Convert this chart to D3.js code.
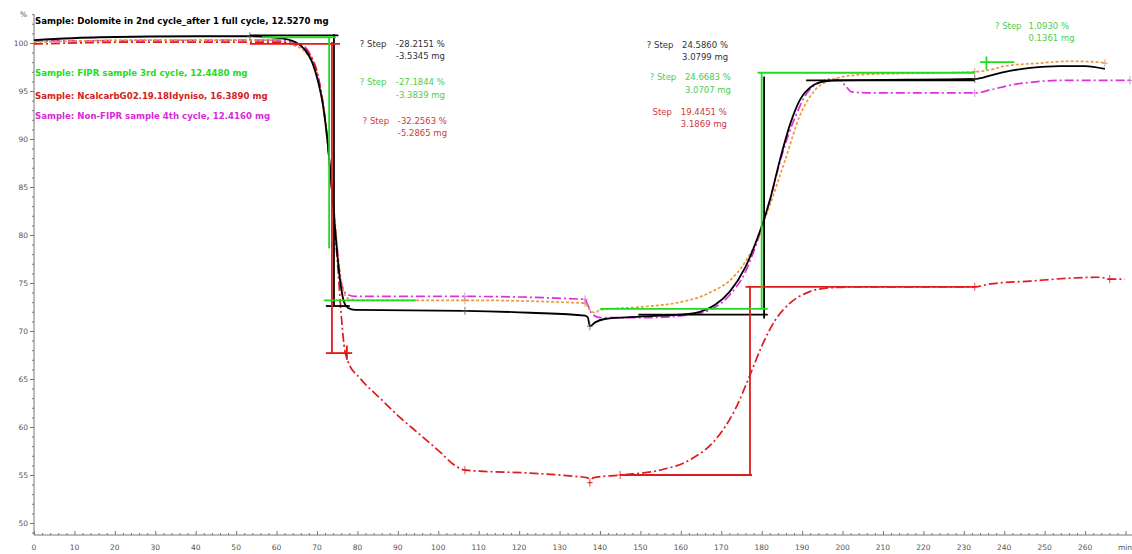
<!DOCTYPE html>
<html>
<head>
<meta charset="utf-8">
<script src="https://cdn.jsdelivr.net/npm/d3@7"></script>
<style>
  body { margin: 0; background: #fff; }
  svg { display: block; font-family: "DejaVu Sans", Verdana, sans-serif; }
</style>
</head>
<body>
<svg id="chart" width="1132" height="554"></svg>
<script>
// TGA curves, [time min, mass %]
var dolomite = [[0,100.3],[16.3,100.6],[41,100.7],[53.4,100.7],[60.8,100.5],[64.6,100.1],[67,99.3],[68.8,98.0],[70.2,96.1],[71.5,93.5],[72.7,89.4],[73.7,84.7],[74.7,79.5],[75.7,75.3],[76.7,73.0],[77.7,72.4],[79.4,72.2],[106.6,72.1],[122.7,71.9],[136.3,71.6],[137,71.4],[137.5,70.5],[138.8,70.9],[141.2,71.25],[149.9,71.5],[159.8,71.7],[164.7,72.0],[168.4,72.7],[172.1,74.1],[175.9,76.6],[178.8,79.5],[182,83.6],[184.5,87.8],[187,91.5],[189.5,94.1],[192.4,95.5],[195.6,96.0],[199.4,96.1],[232.7,96.25],[236.5,96.6],[240.2,97.0],[246.4,97.4],[253.8,97.6],[260,97.6],[264.9,97.3]];
var fipr = [[0,100.1],[28.7,100.3],[58.4,100.3],[63.3,99.9],[67,99.1],[69.5,97.2],[71.2,94.1],[72.7,89.4],[74,83.6],[75.2,77.9],[76.4,74.3],[77.7,73.4],[80.6,73.2],[106.6,73.2],[136.3,72.9],[137.5,72.2],[138.8,71.9],[140,72.2],[149.9,72.5],[159.8,73.0],[167.2,74.0],[173.4,75.8],[178.3,79.0],[182,83.1],[185.8,87.8],[189.5,92.5],[193.2,95.1],[196.9,96.1],[204.3,96.7],[232.7,97.0],[236.5,97.2],[240.2,97.6],[248.8,97.9],[256.2,98.1],[263.7,98.0],[264.9,97.9]];
var ncalcarb = [[0,99.9],[28.7,100.1],[60.8,100.1],[65.8,99.7],[68.3,98.75],[70.2,96.7],[71.7,93.0],[73,87.8],[74.2,81.6],[75.2,76.4],[75.9,72.2],[76.7,68.5],[77.7,66.8],[80.6,65.1],[85.6,63.0],[90.5,61.0],[95.5,59.2],[100.4,57.4],[104.1,56.0],[106.6,55.5],[110.3,55.4],[122.7,55.2],[132.6,54.9],[137,54.7],[137.5,54.2],[138.3,54.7],[145,55.0],[154.8,55.5],[162.3,56.6],[168.4,58.6],[173.4,61.8],[177.1,65.4],[180.1,68.5],[183.3,71.1],[187,72.9],[191.9,74.1],[196.9,74.5],[204.3,74.6],[232.7,74.6],[236.5,74.9],[246.4,75.2],[256.2,75.5],[263.7,75.6],[266.1,75.4],[269.8,75.4]];
var nonFipr = [[0,100.2],[60.8,100.3],[65.8,99.9],[68.8,98.4],[70.7,95.6],[72.2,91.5],[73.5,85.7],[74.7,80.0],[75.9,75.3],[77.2,73.9],[79.4,73.6],[106.6,73.6],[136.3,73.3],[137,72.7],[138,71.8],[140,71.4],[152.4,71.4],[162.3,71.7],[167.2,72.2],[172.1,73.75],[175.9,76.1],[178.8,79.2],[182,83.6],[185,88.3],[188.2,92.2],[191.4,94.9],[194.4,95.9],[197.4,96.25],[199.4,96.1],[200.8,95.5],[202.3,94.9],[206.8,94.8],[232.7,94.8],[236.5,95.1],[241.4,95.6],[246.4,95.9],[253.8,96.1],[271.1,96.1]];

var sampleNames = [
    "Sample: Dolomite in 2nd cycle_after 1 full cycle, 12.5270 mg",
    "Sample: FIPR sample 3rd cycle, 12.4480 mg",
    "Sample: NcalcarbG02.19.18Idyniso, 16.3890 mg",
    "Sample: Non-FIPR sample 4th cycle, 12.4160 mg"
];

// step evaluation tangents, [t1, v1, t2, v2]
var blackSteps = [[53.4,100.8,75.3,100.8],[74.2,100.9,74.2,72.6],[72.2,72.6,78.1,72.6],
    [149.5,71.7,181.5,71.7],[180.6,96.5,180.6,71.3],[191,96.1,232.7,96.1]];
var greenSteps = [[56.4,100.6,74.7,100.6],[73,100.6,73,78.6],[71.7,73.2,94.5,73.2],
    [140,72.3,181.5,72.3],[180,96.9,180,72.3],[179,96.9,232.7,96.9],
    [234,98.0,242.5,98.0],[235.6,98.6,235.6,97.2]];
var redSteps = [[53.4,99.9,75.7,99.9],[73.7,100.1,73.7,67.7],[72.2,67.7,78.7,67.7],[77.4,68.5,77.4,67.0],
    [145,55.0,177.6,55.0],[177.1,74.6,177.1,55.0],[176,74.6,232.7,74.6]];
var stepPercent = ["-28.2151 %","-27.1844 %","-32.2563 %","24.5860 %","24.6683 %","19.4451 %","1.0930 %"];
var stepMass = ["-3.5345 mg","-3.3839 mg","-5.2865 mg","3.0799 mg","3.0707 mg","3.1869 mg","0.1361 mg"];
var stepLabel = ["? Step","? Step","? Step","? Step","? Step","Step","? Step"];

// evaluation limit markers
var dolomiteMarks = [[106.6,72.1],[53.4,100.7],[137.5,70.5],[232.7,96.25]];
var fiprMarks = [[106.6,73.2],[136.3,72.9],[232.7,97.0],[264.9,97.9]];
var ncalcarbMarks = [[106.6,55.5],[137.5,54.2],[145,55.0],[232.7,74.6],[266.1,75.4]];
var nonFiprMarks = [[106.6,73.6],[136.3,73.3],[232.7,94.8],[271.1,96.1]];

var yTickLabels = [50,55,60,65,70,75,80,85,90,95,100];
var xTickLabels = [0,10,20,30,40,50,60,70,80,90,100,110,120,130,140,150,160,170,180,190,200,210,220,230,240,250,260];

(function () {
    "use strict";
    var svg, x, y, line, g, colors;

    svg = d3.select("#chart");
    x = d3.scaleLinear().domain([0, 271.6]).range([34, 1132]);
    y = d3.scaleLinear().domain([48.75, 103.02]).range([535, 14]);
    colors = { black: "#000", green: "#1fdc1f", red: "#e01b1b", magenta: "#e12ee1", orange: "#e89a3c" };

    // axes
    g = svg.append("g").attr("stroke", "#777").attr("stroke-width", 1);
    g.append("line").attr("x1", x(0)).attr("x2", x(0)).attr("y1", 14).attr("y2", 535);
    g.append("line").attr("x1", x(0)).attr("x2", 1132).attr("y1", 535).attr("y2", 535);
    g.selectAll(".ymin").data(d3.range(49, 104))
        .enter().append("line")
        .attr("x1", function (d) { return d % 5 === 0 ? x(0) - 4 : x(0) - 2; })
        .attr("x2", x(0))
        .attr("y1", function (d) { return y(d) + 0.5; })
        .attr("y2", function (d) { return y(d) + 0.5; });
    g.selectAll(".xmin").data(d3.range(0, 272, 2))
        .enter().append("line")
        .attr("x1", function (d) { return x(d) + 0.5; })
        .attr("x2", function (d) { return x(d) + 0.5; })
        .attr("y1", 535)
        .attr("y2", function (d) { return d % 10 === 0 ? 531 : 533; });

    svg.selectAll(".ylab").data(yTickLabels)
        .enter().append("text")
        .attr("x", 28).attr("y", function (d) { return y(d) + 3; })
        .attr("text-anchor", "end").attr("font-size", 7.5).attr("fill", "#555")
        .text(function (d) { return d; });
    svg.selectAll(".xlab").data(xTickLabels)
        .enter().append("text")
        .attr("x", function (d) { return x(d); }).attr("y", 550)
        .attr("text-anchor", "middle").attr("font-size", 7.5).attr("fill", "#555")
        .text(function (d) { return d; });
    svg.append("text").attr("x", 20).attr("y", 17).attr("font-size", 7.5).attr("fill", "#555").text("%");
    svg.append("text").attr("x", 1125).attr("y", 550).attr("text-anchor", "middle")
        .attr("font-size", 7.5).attr("fill", "#555").text("min");

    line = d3.line()
        .x(function (d) { return x(d[0]); })
        .y(function (d) { return y(d[1]); })
        .curve(d3.curveMonotoneX);

    var drawCurve = function (data, color, dash, width) {
        svg.append("path").datum(data)
            .attr("d", line)
            .attr("fill", "none")
            .attr("stroke", color)
            .attr("stroke-width", width)
            .attr("stroke-dasharray", dash);
    };
    drawCurve(nonFipr, colors.magenta, "9,3,2,3", 1.7);
    drawCurve(fipr, colors.orange, "3,2", 1.7);
    drawCurve(ncalcarb, colors.red, "9,3,2,3", 1.7);
    drawCurve(dolomite, colors.black, null, 1.8);

    var drawMarks = function (data, color) {
        var m = svg.append("g").attr("stroke", color).attr("stroke-width", 0.8);
        m.selectAll("line.h").data(data).enter().append("line")
            .attr("x1", function (d) { return x(d[0]) - 3; })
            .attr("x2", function (d) { return x(d[0]) + 3; })
            .attr("y1", function (d) { return y(d[1]); })
            .attr("y2", function (d) { return y(d[1]); });
        m.selectAll("line.v").data(data).enter().append("line")
            .attr("x1", function (d) { return x(d[0]); })
            .attr("x2", function (d) { return x(d[0]); })
            .attr("y1", function (d) { return y(d[1]) - 4; })
            .attr("y2", function (d) { return y(d[1]) + 4; });
    };
    drawMarks(dolomiteMarks, "#555");
    drawMarks(fiprMarks, "#d88a5a");
    drawMarks(ncalcarbMarks, colors.red);
    drawMarks(nonFiprMarks, "#d070d0");

    var drawSteps = function (data, color) {
        svg.append("g").selectAll("line").data(data)
            .enter().append("line")
            .attr("x1", function (d) { return x(d[0]); })
            .attr("y1", function (d) { return y(d[1]); })
            .attr("x2", function (d) { return x(d[2]); })
            .attr("y2", function (d) { return y(d[3]); })
            .attr("stroke", color)
            .attr("stroke-width", 1.8);
    };
    drawSteps(blackSteps, colors.black);
    drawSteps(redSteps, colors.red);
    drawSteps(greenSteps, colors.green);

    // step result texts, anchored in data space
    var textPos = [[80.6,99.6],[80.6,95.6],[81.3,91.6],[151.6,99.5],[152.3,96.1],[153,92.5],[237.7,101.5]];
    var valuePos = [[89.5,99.6],[89.5,95.6],[90,91.6],[160.3,99.5],[161,96.1],[160,92.5],[246,101.5]];
    var textColor = ["#333","#4ecb4e","#cf3a3a","#333","#4ecb4e","#cf3a3a","#4ecb4e"];
    stepLabel.forEach(function (lab, i) {
        svg.append("text").attr("x", x(textPos[i][0])).attr("y", y(textPos[i][1]))
            .attr("font-size", 8.5).attr("fill", textColor[i]).text(lab);
        svg.append("text").attr("x", x(valuePos[i][0])).attr("y", y(valuePos[i][1]))
            .attr("font-size", 8.5).attr("fill", textColor[i]).text(stepPercent[i]);
        svg.append("text").attr("x", x(valuePos[i][0])).attr("y", y(valuePos[i][1]) + 12.5)
            .attr("font-size", 8.5).attr("fill", textColor[i]).text(stepMass[i]);
    });

    // sample legend
    var legendY = [24, 76, 99, 119];
    var legendColor = ["#000", colors.green, "#d41c1c", "#d92ad9"];
    svg.selectAll(".legend").data(sampleNames)
        .enter().append("text")
        .attr("x", 35)
        .attr("y", function (d, i) { return legendY[i]; })
        .attr("font-size", 8.6)
        .attr("font-weight", "bold")
        .attr("fill", function (d, i) { return legendColor[i]; })
        .text(function (d) { return d; });
}());
</script>
</body>
</html>
